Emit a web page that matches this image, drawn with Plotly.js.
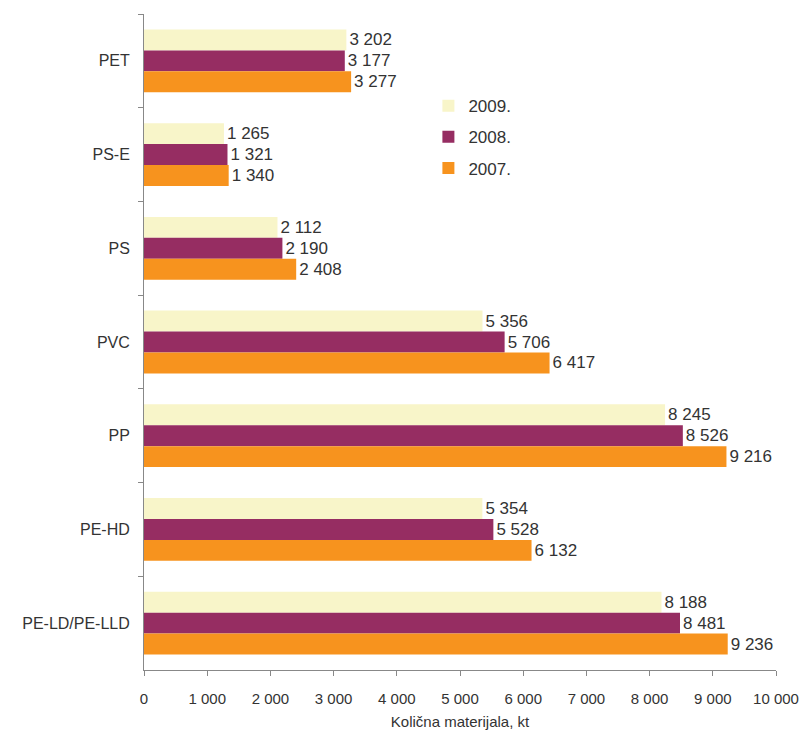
<!DOCTYPE html>
<html>
<head>
<meta charset="utf-8">
<script src="https://cdn.plot.ly/plotly-3.0.1.min.js"></script>
<style>html,body{margin:0;padding:0;background:#fff;}#chart{width:801px;height:736px;}</style>
</head>
<body>
<div id="chart"></div>
<script>
const categories = ["PET", "PS-E", "PS", "PVC", "PP", "PE-HD", "PE-LD/PE-LLD"];
const years = ["2009.", "2008.", "2007."];
const values2009 = [3202, 1265, 2112, 5356, 8245, 5354, 8188];
const values2008 = [3177, 1321, 2190, 5706, 8526, 5528, 8481];
const values2007 = [3277, 1340, 2408, 6417, 9216, 6132, 9236];
const colors = ["#f8f5c9", "#962d62", "#f7931e"];

function fmt(v) {
  return String(v).replace(/\B(?=(\d{3})+(?!\d))/g, " ");
}

const series = [values2009, values2008, values2007];
const traces = series.map((vals, i) => ({
  type: "bar",
  orientation: "h",
  name: years[i],
  legendgroup: "g" + i,
  y: categories,
  x: vals,
  text: vals.map(fmt),
  textposition: "outside",
  cliponaxis: false,
  textfont: {family: "Liberation Sans, Arial, sans-serif", size: 17, color: "#333"},
  marker: {color: colors[i], line: {width: 0}},
  hoverinfo: "x+name"
}));

const layout = {
  width: 801,
  height: 736,
  margin: {l: 144, r: 25, t: 14, b: 66},
  paper_bgcolor: "#fff",
  plot_bgcolor: "#fff",
  font: {family: "Liberation Sans, Arial, sans-serif", size: 15, color: "#333"},
  barmode: "group",
  bargap: 0.33,
  bargroupgap: 0,
  showlegend: true,
  legend: {
    x: 0.45, y: 0.887, xanchor: "left", yanchor: "top",
    traceorder: "grouped",
    tracegroupgap: 6,
    font: {size: 17, color: "#333"},
    bgcolor: "rgba(0,0,0,0)",
    itemwidth: 30
  },
  xaxis: {
    range: [0, 10000],
    dtick: 1000,
    tick0: 0,
    tickformat: ",d",
    separatethousands: true,
    exponentformat: "none",
    showgrid: false,
    zeroline: false,
    showline: true,
    linecolor: "#888",
    linewidth: 1,
    ticks: "outside",
    ticklen: 5,
    tickcolor: "#888",
    ticklabelstandoff: 10,
    tickfont: {size: 15, color: "#333"},
    title: {text: "Količna materijala, kt", font: {size: 15, color: "#333"}, standoff: 10}
  },
  yaxis: {
    type: "category",
    autorange: "reversed",
    showgrid: false,
    zeroline: false,
    showline: true,
    linecolor: "#888",
    linewidth: 1,
    ticks: "outside",
    tickson: "boundaries",
    ticklen: 5,
    tickcolor: "#888",
    ticklabelstandoff: 10,
    tickfont: {size: 16, color: "#333"}
  },
  separators: ". "
};

Plotly.newPlot("chart", traces, layout, {displayModeBar: false, staticPlot: true});
</script>
</body>
</html>
